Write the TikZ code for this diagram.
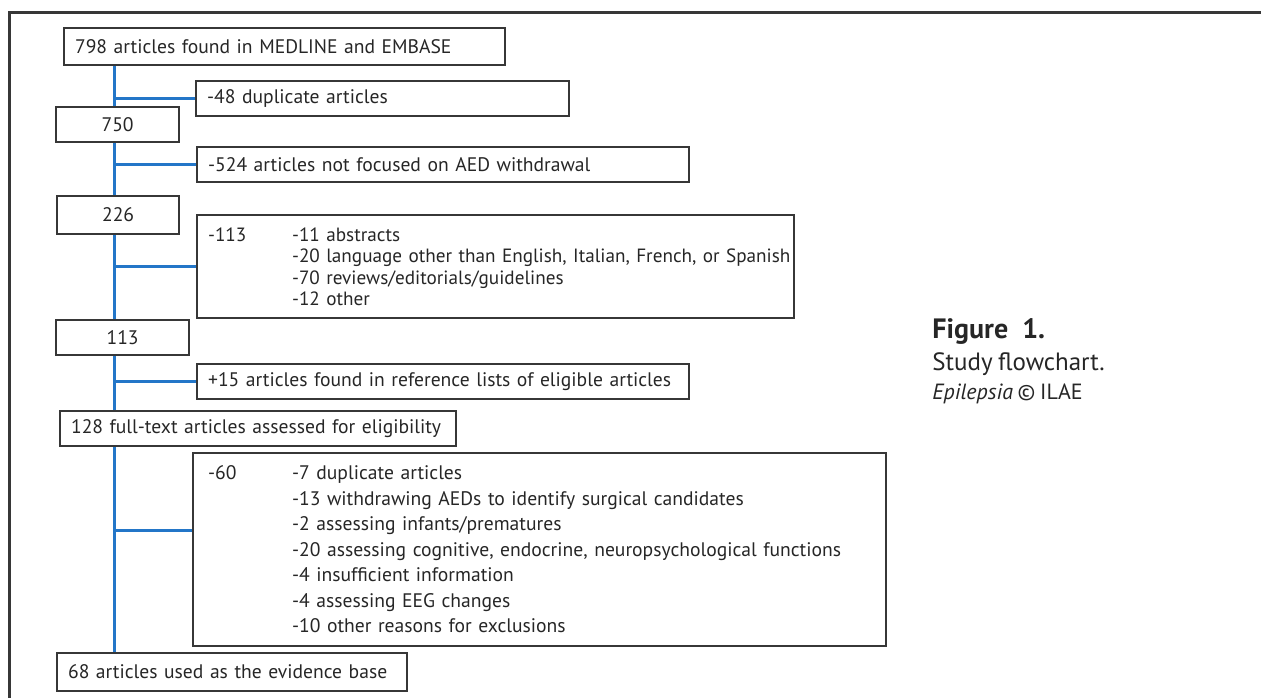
\documentclass[tikz,border=0pt]{standalone}
\usepackage{fontspec}
\setmainfont{PT Sans}[WordSpace=0.8]
\definecolor{spineblue}{RGB}{35,118,200}
\definecolor{boxgray}{RGB}{55,55,55}
\begin{document}
\begin{tikzpicture}[x=0.5pt, y=-0.5pt,
		listbox/.style={draw=boxgray, line width=1.1pt, anchor=north west, inner xsep=5.5pt, inner ysep=0pt, align=left, text=black!85, font=\fontsize{9.8}{10.75}\selectfont},
		box/.style={listbox, execute at begin node={\leavevmode\hbox\bgroup}, execute at end node={\egroup}},
		count/.style={box, align=center},
		link/.style={spineblue, line width=1.5pt}]
				\useasboundingbox (0,0) rectangle (1261,698);

				% Frame
				\draw[boxgray, line width=1.5pt] (1261,12) -- (9,12) -- (9,698);

				% Main column
				\node[box, text width=209.5pt, minimum height=18.5pt] (found) at (63,27) {798 articles found in MEDLINE and EMBASE};
				\node[count, text width=50.5pt, minimum height=17.5pt] (n750) at (55,106) {750};
				\node[count, text width=50pt, minimum height=19pt] (n226) at (56,195) {226};
				\node[count, text width=55.5pt, minimum height=17.5pt] (n113) at (55,319) {113};
				\node[box, text width=187pt, minimum height=17.5pt] (n128) at (59,410) {128 full-text articles assessed for eligibility};
				\node[box, text width=164pt, minimum height=19pt] (n68) at (56,652) {68 articles used as the evidence base};

				% Side boxes
				\node[box, text width=175.5pt, minimum height=17.5pt] (dup48) at (195,80) {-48 duplicate articles};
				\node[box, text width=235pt, minimum height=17.5pt] (ex524) at (196,146) {-524 articles not focused on AED withdrawal};
				\node[listbox, text width=287.5pt, minimum height=51.5pt, font=\fontsize{9.6}{10.75}\selectfont] (ex113) at (196,214) {\makebox[42pt][l]{-113}-11 abstracts\\
					\hspace*{42pt}\mbox{-20 language other than English, Italian, French, or Spanish}\\
					\hspace*{42pt}-70 reviews/editorials/guidelines\\
					\hspace*{42pt}-12 other};
				\node[box, text width=235pt, minimum height=17.5pt] (add15) at (196,363) {+15 articles found in reference lists of eligible articles};
				\node[listbox, text width=335.5pt, minimum height=96.5pt, font=\fontsize{9.8}{12.75}\selectfont] (ex60) at (192,452) {\hspace*{2pt}\makebox[42pt][l]{-60}-7 duplicate articles\\
					\hspace*{44pt}-13 withdrawing AEDs to identify surgical candidates\\
					\hspace*{44pt}-2 assessing infants/prematures\\
					\hspace*{44pt}-20 assessing cognitive, endocrine, neuropsychological functions\\
					\hspace*{44pt}-4 insufficient information\\
					\hspace*{44pt}-4 assessing EEG changes\\
					\hspace*{44pt}-10 other reasons for exclusions};

				% Caption
				\node[anchor=north west, inner sep=0pt, align=left, text=black!85, font=\fontsize{12.5}{16}\selectfont] (caption) at (932,318) {{\fontsize{14}{16}\selectfont\bfseries Figure\hspace{0.5em}1.}\\Study flowchart.\\[-1.5pt]{\fontsize{11}{16}\selectfont\itshape Epilepsia \upshape© ILAE}};

				% Spine
				\coordinate (spine) at (114,0);
				\coordinate (ex60in) at ([yshift=9.5pt]ex60.west);
				\draw[link] (found.south -| spine) -- (n750.north -| spine);
				\draw[link] (n750.south -| spine) -- (n226.north -| spine);
				\draw[link] (n226.south -| spine) -- (n113.north -| spine);
				\draw[link] (n113.south -| spine) -- (n128.north -| spine);
				\draw[link] (n128.south -| spine) -- (n68.north -| spine);

				% Branches
				\draw[link] (spine |- dup48.west) -- (dup48.west);
				\draw[link] (spine |- ex524.west) -- (ex524.west);
				\draw[link] (spine |- ex113.west) -- (ex113.west);
				\draw[link] (spine |- add15.west) -- (add15.west);
				\draw[link] (spine |- ex60in) -- (ex60in);
			\end{tikzpicture}
\end{document}
